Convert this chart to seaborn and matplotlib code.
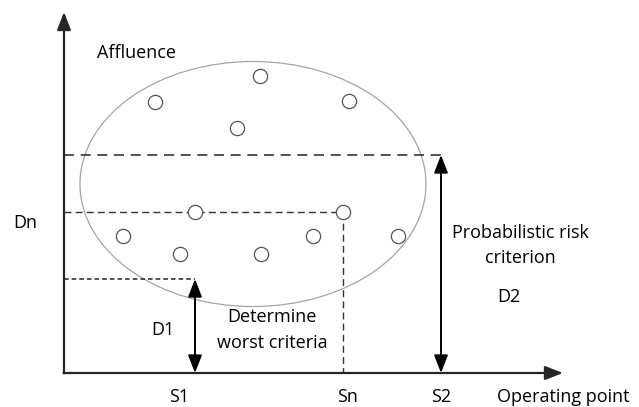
import matplotlib
matplotlib.use("Agg")
import matplotlib.pyplot as plt
import seaborn as sns
import pandas as pd
from matplotlib.patches import Ellipse

sns.set_theme(style="white")
plt.rcParams['font.family'] = ['Open Sans', 'DejaVu Sans']

# Data (diagram coordinates, pixel space)
point_x = [260, 155, 237, 349, 195, 123, 180, 261, 313, 343, 398]
point_y = [76, 102, 128, 101, 212, 236, 254, 254, 236, 212, 236]
ellipse_center = (253, 184)
ellipse_size = (346, 245)
s1_x, sn_x, s2_x = 195, 343, 441
d1_y, dn_y, d2_y = 279, 212, 155
axis_origin = (64, 373)

df = pd.DataFrame({"x": point_x, "y": point_y})

fig = plt.figure(figsize=(6.39, 4.07), dpi=100)
ax = fig.add_axes([0, 0, 1, 1])

ox, oy = axis_origin
ink = "#262626"
# axes with arrows
ax.annotate("", xy=(ox, 12), xytext=(ox, oy + 0.5),
            arrowprops=dict(arrowstyle="-|>,head_length=0.9,head_width=0.35",
                            color=ink, lw=1.6, shrinkA=0, shrinkB=0))
ax.annotate("", xy=(563, oy), xytext=(ox - 0.5, oy),
            arrowprops=dict(arrowstyle="-|>,head_length=0.9,head_width=0.35",
                            color=ink, lw=1.6, shrinkA=0, shrinkB=0))

# ellipse
ax.add_patch(Ellipse(ellipse_center, ellipse_size[0], ellipse_size[1],
                     fill=False, ec="#a5a5a5", lw=0.9))

# dashed lines
ax.plot([ox, s2_x], [d2_y, d2_y], ls=(0, (6, 4)), color="#333333", lw=1.2)
ax.plot([ox, sn_x], [dn_y, dn_y], ls=(0, (5, 3)), color="#333333", lw=1.0)
ax.plot([sn_x, sn_x], [dn_y, oy], ls=(0, (5, 3)), color="#333333", lw=1.0)
ax.plot([ox, s1_x], [d1_y, d1_y], ls=(0, (3, 2)), color="#222222", lw=1.1)

# points
sns.scatterplot(data=df, x="x", y="y", ax=ax, s=105, facecolor="white",
                edgecolor="#555555", linewidth=0.9, zorder=5, legend=False)
ax.set_xlim(0, 639)
ax.set_ylim(407, 0)
ax.axis("off")

# double arrows
for xx, yt in [(s1_x, d1_y), (s2_x, d2_y)]:
    ax.annotate("", xy=(xx, yt), xytext=(xx, oy),
                arrowprops=dict(arrowstyle="<|-|>,head_length=0.9,head_width=0.35",
                                color="black", lw=1.4, shrinkA=0, shrinkB=0))

fs = 13
ax.text(97, 53, "Affluence", fontsize=fs, ha="left", va="center", color="black")
ax.text(13, 223, "Dn", fontsize=fs, ha="left", va="center", color="black")
ax.text(163, 330, "D1", fontsize=fs, ha="center", va="center", color="black")
ax.text(272, 317, "Determine", fontsize=fs, ha="center", va="center", color="black")
ax.text(272, 343, "worst criteria", fontsize=fs, ha="center", va="center", color="black")
ax.text(520, 233, "Probabilistic risk", fontsize=fs, ha="center", va="center", color="black")
ax.text(520, 258, "criterion", fontsize=fs, ha="center", va="center", color="black")
ax.text(509, 297, "D2", fontsize=fs, ha="center", va="center", color="black")
ax.text(179, 397, "S1", fontsize=fs, ha="center", va="center", color="black")
ax.text(348, 397, "Sn", fontsize=fs, ha="center", va="center", color="black")
ax.text(441, 397, "S2", fontsize=fs, ha="center", va="center", color="black")
ax.text(563, 397, "Operating point", fontsize=fs, ha="center", va="center", color="black")

fig.savefig("out.png", dpi=100)
